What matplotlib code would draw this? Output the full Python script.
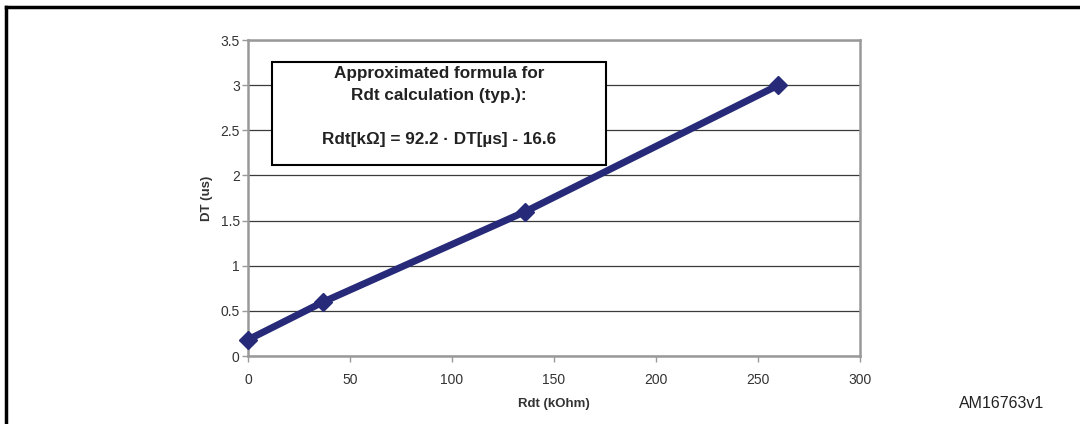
import matplotlib
matplotlib.use("Agg")
import matplotlib.pyplot as plt
from matplotlib.lines import Line2D

plt.rcParams['font.family'] = ['Liberation Sans', 'DejaVu Sans']

rdt = [0, 37, 136, 260]
dt = [0.18, 0.6, 1.6, 3.0]
xticks = [0, 50, 100, 150, 200, 250, 300]
yticks = [0, 0.5, 1, 1.5, 2, 2.5, 3, 3.5]
ytick_labels = ["0", "0.5", "1", "1.5", "2", "2.5", "3", "3.5"]
box_lines = ["Approximated formula for", "Rdt calculation (typ.):",
             "Rdt[k\u03a9] = 92.2 \u00b7 DT[\u00b5s] - 16.6"]

fig = plt.figure(figsize=(10.8, 4.24), dpi=100)
ax = fig.add_axes([248/1080, 68/424, 612/1080, 316/424])

ax.plot(rdt, dt, color="#262a78", lw=5, marker="D", ms=9.5, zorder=3, clip_on=False)

ax.set_xlim(0, 300)
ax.set_ylim(0, 3.5)
ax.set_xticks(xticks)
ax.set_yticks(yticks)
ax.set_yticklabels(ytick_labels)
ax.yaxis.grid(True, color="#3a3a3a", lw=0.9)
ax.set_axisbelow(True)
for s in ax.spines.values():
    s.set_color("#999999")
    s.set_linewidth(1.8)
ax.tick_params(axis="both", colors="#999999", labelcolor="#333333", labelsize=10,
               length=4, width=1, direction="out")
ax.tick_params(axis="x", pad=8)
ax.tick_params(axis="y", pad=2)

ax.set_xlabel("Rdt (kOhm)", fontsize=9.5, fontweight="bold", color="#333333", labelpad=8)
ax.set_ylabel("DT (us)", fontsize=9.5, fontweight="bold", color="#333333", labelpad=5)

# formula box
ax.add_patch(plt.Rectangle((12, 2.12), 163.5, 1.14, facecolor="white",
                           edgecolor="black", lw=1.5, zorder=4))
for line, yy in zip(box_lines, [3.13, 2.885, 2.40]):
    ax.text(93.5, yy, line, ha="center", va="center", fontsize=12.3,
            fontweight="bold", color="#222222", zorder=5)

fig.text(1002/1080, 1 - 404/424, "AM16763v1", fontsize=11.5, color="#222222",
         ha="center", va="center")

# outer frame (top and left edges)
fig.add_artist(Line2D([6/1080, 1], [1 - 7/424, 1 - 7/424], color="black", lw=2.5,
                      transform=fig.transFigure))
fig.add_artist(Line2D([6/1080, 6/1080], [0, 1 - 7/424], color="black", lw=2.5,
                      transform=fig.transFigure))

fig.savefig("out.png", dpi=100)
